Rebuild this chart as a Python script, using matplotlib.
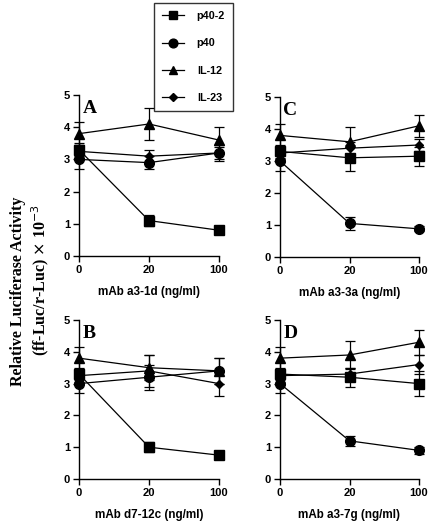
import matplotlib
matplotlib.use("Agg")
import matplotlib.pyplot as plt
from matplotlib.lines import Line2D

doses = ["0", "20", "100"]
series_names = ["p40-2", "p40", "IL-12", "IL-23"]
markers = ["s", "o", "^", "D"]
msizes = [6.5, 7, 7, 4.5]

# Panel A (mAb a3-1d)
A_vals = {"p40-2": [3.3, 1.1, 0.8], "p40": [3.0, 2.9, 3.2],
          "IL-12": [3.8, 4.1, 3.6], "IL-23": [3.25, 3.1, 3.2]}
A_errs = {"p40-2": [0.2, 0.18, 0.05], "p40": [0.3, 0.2, 0.25],
          "IL-12": [0.35, 0.5, 0.4], "IL-23": [0.2, 0.2, 0.2]}
# Panel C (mAb a3-3a)
C_vals = {"p40-2": [3.3, 3.1, 3.15], "p40": [3.0, 1.05, 0.88],
          "IL-12": [3.8, 3.6, 4.1], "IL-23": [3.25, 3.4, 3.5]}
C_errs = {"p40-2": [0.2, 0.4, 0.3], "p40": [0.3, 0.2, 0.08],
          "IL-12": [0.35, 0.45, 0.35], "IL-23": [0.2, 0.2, 0.2]}
# Panel B (mAb d7-12c)
B_vals = {"p40-2": [3.3, 1.0, 0.75], "p40": [3.0, 3.2, 3.4],
          "IL-12": [3.8, 3.5, 3.4], "IL-23": [3.25, 3.4, 3.0]}
B_errs = {"p40-2": [0.2, 0.15, 0.05], "p40": [0.3, 0.4, 0.4],
          "IL-12": [0.35, 0.4, 0.4], "IL-23": [0.2, 0.5, 0.4]}
# Panel D (mAb a3-7g)
D_vals = {"p40-2": [3.3, 3.2, 3.0], "p40": [3.0, 1.2, 0.9],
          "IL-12": [3.8, 3.9, 4.3], "IL-23": [3.25, 3.3, 3.6]}
D_errs = {"p40-2": [0.2, 0.3, 0.4], "p40": [0.3, 0.15, 0.1],
          "IL-12": [0.35, 0.45, 0.4], "IL-23": [0.2, 0.2, 0.3]}

panels = [
    ("A", "mAb a3-1d (ng/ml)", A_vals, A_errs, [79/432, 1-256/528, 140/432, 161/528]),
    ("C", "mAb a3-3a (ng/ml)", C_vals, C_errs, [280/432, 1-257/528, 139/432, 160/528]),
    ("B", "mAb d7-12c (ng/ml)", B_vals, B_errs, [79/432, 1-479/528, 140/432, 159/528]),
    ("D", "mAb a3-7g (ng/ml)", D_vals, D_errs, [280/432, 1-479/528, 139/432, 159/528]),
]

sans = "Liberation Sans"
serif = "Liberation Serif"

fig = plt.figure(figsize=(4.32, 5.28), dpi=100)

for letter, xlabel, vals, errs, rect in panels:
    ax = fig.add_axes(rect)
    xs = list(range(len(doses)))
    for name, m, ms in zip(series_names, markers, msizes):
        ax.errorbar(xs, vals[name], yerr=errs[name], color="black", marker=m,
                    markersize=ms, linewidth=0.9, elinewidth=0.9, capsize=3.5,
                    capthick=0.9, clip_on=False, zorder=3)
    ax.set_xlim(0, 2)
    ax.set_ylim(0, 5)
    ax.set_xticks(xs)
    ax.set_xticklabels(doses)
    ax.set_yticks([0, 1, 2, 3, 4, 5])
    for s in ["top", "right"]:
        ax.spines[s].set_visible(False)
    for s in ["left", "bottom"]:
        ax.spines[s].set_linewidth(1.0)
    ax.tick_params(direction="out", length=4, width=1.0, labelsize=8, pad=2.5)
    for lab in ax.get_xticklabels() + ax.get_yticklabels():
        lab.set_fontfamily(sans)
        lab.set_fontweight("bold")
    ax.set_xlabel(xlabel, fontsize=8.4, fontweight="bold", family=sans, labelpad=8)
    ax.text(0.025, 0.97, letter, transform=ax.transAxes, fontsize=14,
            fontweight="bold", family=serif, va="top", ha="left")

fig.text(18/432, 1-291/528, "Relative Luciferase Activity", rotation=90,
         fontsize=11.5, fontweight="bold", family=serif, ha="center", va="center")
fig.text(40/432, 1-280/528, r"(ff-Luc/r-Luc) $\times$ 10$^{-3}$", rotation=90,
         fontsize=11.5, fontweight="bold", family=serif, ha="center", va="center")

handles = [Line2D([0], [0], color="black", marker=m, markersize=ms * 0.9, linewidth=0.9)
           for m, ms in zip(markers, msizes)]
leg = fig.legend(handles, series_names, loc="upper left",
                 bbox_to_anchor=(154/432, 1-3/528), frameon=True, fancybox=False,
                 edgecolor="black", labelspacing=1.6, handlelength=2.0,
                 handletextpad=1.2, borderpad=0.75, borderaxespad=0,
                 prop={"family": sans, "weight": "bold", "size": 7.8})
leg.get_frame().set_linewidth(1.0)

fig.savefig("out.png", dpi=100)
